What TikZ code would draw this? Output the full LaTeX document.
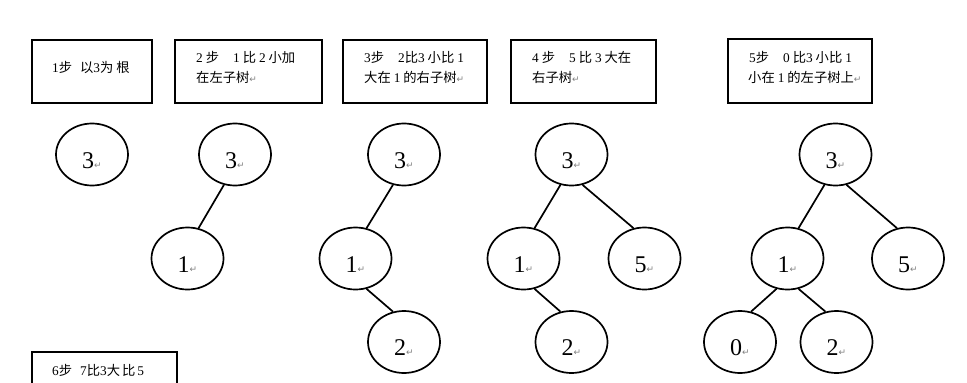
\documentclass[tikz,border=0pt]{standalone}
\usepackage{fontspec}
\setmainfont{Liberation Serif}
\newfontfamily\cjk{Noto Sans CJK SC}
\newfontfamily\symf{DejaVu Sans}
\usetikzlibrary{shapes.geometric}
\newcommand{\pmark}{{\symf\color{gray}\fontsize{9}{9}\selectfont ↵}}
\newcommand{\dg}[1]{{\rmfamily #1}}
\newcommand{\gp}{\hspace{14pt}}
\begin{document}
\begin{tikzpicture}[x=1pt,y=-1pt,
  box/.style={draw, rectangle, line width=1.8pt, inner sep=0pt},
  txt/.style={anchor=base west, inner sep=0pt, font=\cjk\fontsize{13.3}{16}\selectfont},
  dig/.style={inner sep=0pt, yshift=-6pt, font=\fontsize{24}{24}\selectfont},
  tnode/.style={ellipse, draw, line width=1.7pt, minimum width=72, minimum height=62, inner sep=0pt, label={[dig]center:#1}},
  edge/.style={line width=1.7pt}]
\useasboundingbox (0,0) rectangle (967,383);
\clip (0,0) rectangle (967,383);
% boxes
\node[box, minimum width=120, minimum height=63] (b1) at (92,71.5) {};
\node[box, minimum width=147, minimum height=63] (b2) at (248.5,71.5) {};
\node[box, minimum width=144, minimum height=63] (b3) at (415,71.5) {};
\node[box, minimum width=145, minimum height=63] (b4) at (583.5,71.5) {};
\node[box, minimum width=144, minimum height=64] (b5) at (800,71) {};
\node[box, minimum width=145, minimum height=63] (b6) at (104.5,383.5) {};
% box texts
\node[txt] (t1) at (52,72) {\dg{1}步\hspace{8pt}以\dg{3}为\hspace{3pt}根};
\node[txt] (t2a) at (196,62) {\dg{2} 步\gp\dg{1} 比 \dg{2} 小加};
\node[txt] (t2b) at (196,82) {在左子树\pmark};
\node[txt] (t3a) at (364,62) {\dg{3}步\gp\dg{2}比\dg{3} 小比 \dg{1}};
\node[txt] (t3b) at (364,82) {大在 \dg{1} 的右子树\pmark};
\node[txt] (t4a) at (532,62) {\dg{4} 步\gp\dg{5} 比 \dg{3} 大在};
\node[txt] (t4b) at (532,82) {右子树\pmark};
\node[txt] (t5a) at (749,62) {\dg{5}步\gp\dg{0} 比\dg{3} 小比 \dg{1}};
\node[txt] (t5b) at (748,82) {小在 \dg{1} 的左子树上\pmark};
\node[txt] (t6a) at (52,375) {\dg{6}步\hspace{8pt}\dg{7}比\dg{3}大\hspace{2pt}比\hspace{2pt}\dg{5}};
% trees
\node[tnode={3\pmark}] (a1) at (92,154.5) {};
\node[tnode={3\pmark}] (a2r) at (235,154.5) {};
\node[tnode={1\pmark}] (a2a) at (187.5,258.5) {};
\node[tnode={3\pmark}] (a3r) at (404,154.5) {};
\node[tnode={1\pmark}] (a3a) at (355.5,258.5) {};
\node[tnode={2\pmark}] (a3b) at (404,342) {};
\node[tnode={3\pmark}] (a4r) at (571.5,154.5) {};
\node[tnode={1\pmark}] (a4a) at (523.5,258.5) {};
\node[tnode={5\pmark}] (a4c) at (644.5,258.5) {};
\node[tnode={2\pmark}] (a4b) at (571.5,342) {};
\node[tnode={3\pmark}] (a5r) at (835.5,154.5) {};
\node[tnode={1\pmark}] (a5a) at (787.5,258.5) {};
\node[tnode={5\pmark}] (a5c) at (908,258.5) {};
\node[tnode={0\pmark}] (a5d) at (740,342) {};
\node[tnode={2\pmark}] (a5b) at (836.5,342) {};
% edges
\draw[edge] (a2r.250) -- (a2a.70);
\draw[edge] (a3r.250) -- (a3a.70);
\draw[edge] (a3a.290) -- (a3b.110);
\draw[edge] (a4r.250) -- (a4a.70);
\draw[edge] (a4r.290) -- (a4c.110);
\draw[edge] (a4a.290) -- (a4b.110);
\draw[edge] (a5r.250) -- (a5a.70);
\draw[edge] (a5r.290) -- (a5c.110);
\draw[edge] (a5a.250) -- (a5d.70);
\draw[edge] (a5a.290) -- (a5b.110);
\end{tikzpicture}
\end{document}
